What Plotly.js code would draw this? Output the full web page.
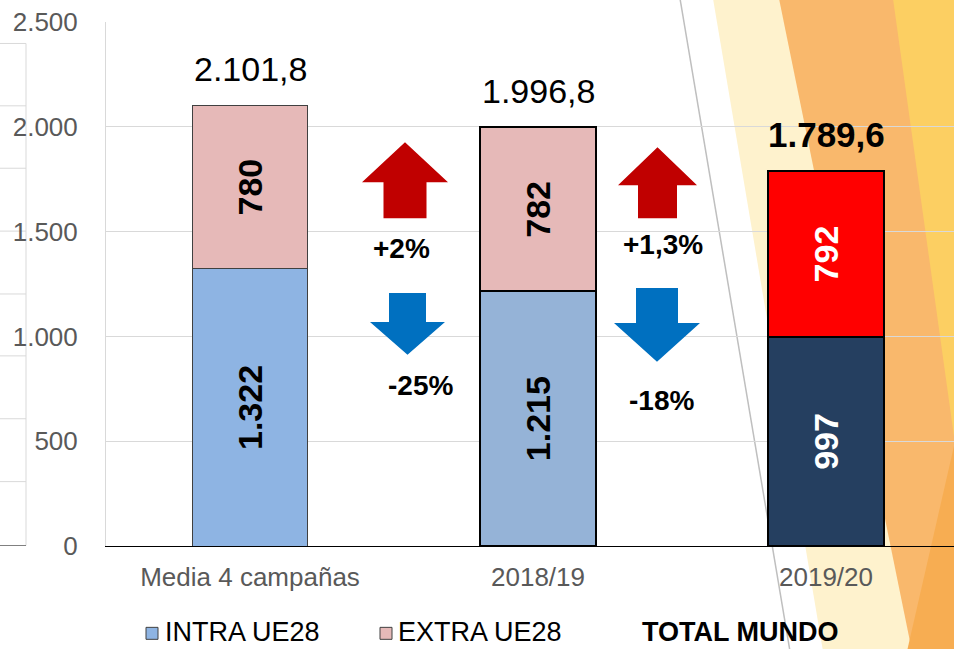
<!DOCTYPE html>
<html>
<head>
<meta charset="utf-8">
<script src="https://cdn.plot.ly/plotly-3.0.1.min.js"></script>
<style>
html,body{margin:0;padding:0;background:#ffffff;}
#chart{width:954px;height:649px;}
</style>
</head>
<body>
<div id="chart"></div>
<script>
// ---------------- data ----------------
const categories = ['Media 4 campañas', '2018/19', '2019/20'];
const intraUE28 = [1322, 1215, 997];
const extraUE28 = [780, 782, 792];
const totalMundo = [2101.8, 1996.8, 1789.6];
const yTickValues = [0, 500, 1000, 1500, 2000, 2500];
const changeUp = ['+2%', '+1,3%'];
const changeDown = ['-25%', '-18%'];
const legendLabels = ['INTRA UE28', 'EXTRA UE28', 'TOTAL MUNDO'];

// ---------------- styles ----------------
const FONT = 'Liberation Sans, Arial, sans-serif';
const intraColors = ['#8EB4E3', '#95B3D7', '#253F60'];
const extraColors = ['#E6B9B8', '#E6B9B8', '#FF0000'];
const lineColors = ['#404040', '#000000', '#000000'];
const lineWidths = [1, 2, 2];
const labelColors = ['#000000', '#000000', '#FFFFFF'];
const totalBold = [false, false, true];

// ---------------- geometry helpers (pixel -> paper) ----------------
const W = 954, H = 649, ML = 106, MR = 0, MT = 21.5, MB = 102.5;
const PW = W - ML - MR, PH = H - MT - MB;
const px = x => (x - ML) / PW;
const py = y => (H - MB - y) / PH;
function poly(pts) {
  return 'M' + pts.map(p => px(p[0]).toFixed(5) + ',' + py(p[1]).toFixed(5)).join(' L') + ' Z';
}
function fmtEs(v, dec) {
  const s = v.toFixed(dec);
  let parts = s.split('.');
  let i = parts[0].replace(/\B(?=(\d{3})+(?!\d))/g, '.');
  return parts[1] ? i + ',' + parts[1] : i;
}

// ---------------- traces ----------------
const commonBar = {
  type: 'bar', x: categories, width: 0.4,
  texttemplate: '%{y:,.0f}', textposition: 'inside', insidetextanchor: 'middle',
  textangle: -90, constraintext: 'none', hoverinfo: 'skip',
  textfont: {family: FONT, size: 34, color: labelColors, weight: 'bold'}
};
const traces = [
  Object.assign({}, commonBar, {
    y: intraUE28, name: legendLabels[0],
    marker: {color: intraColors, line: {color: lineColors, width: lineWidths}}
  }),
  Object.assign({}, commonBar, {
    y: extraUE28, name: legendLabels[1],
    marker: {color: extraColors, line: {color: lineColors, width: lineWidths}}
  })
];

// ---------------- decorative shapes ----------------
const shapes = [];
function addPoly(pts, color) {
  shapes.push({type: 'path', xref: 'paper', yref: 'paper', layer: 'below',
    path: poly(pts), fillcolor: color, line: {width: 0}});
}
// background bands (right side)
addPoly([[713, -2], [960, -2], [960, 652], [823, 652]], '#FEF2CD');
addPoly([[779, -2], [960, -2], [960, 652], [912, 652]], '#F9B86C');
addPoly([[893, -2], [960, -2], [960, 480]], '#FCCF62');
addPoly([[960, 420], [960, 652], [907, 652]], '#F7AD52');
// diagonal thin line
shapes.push({type: 'line', xref: 'paper', yref: 'paper', layer: 'below',
  x0: px(680), y0: py(-2), x1: px(790), y1: py(652), line: {color: '#BFBFBF', width: 1.5}});
// left partial box
[43, 105.5, 168, 231, 294, 356, 419, 482].forEach(yy => {
  shapes.push({type: 'line', xref: 'paper', yref: 'paper', layer: 'below',
    x0: px(0), y0: py(yy), x1: px(26), y1: py(yy), line: {color: '#D9D9D9', width: 1}});
});
shapes.push({type: 'line', xref: 'paper', yref: 'paper', layer: 'below',
  x0: px(26), y0: py(43), x1: px(26), y1: py(546), line: {color: '#D9D9D9', width: 1}});
shapes.push({type: 'line', xref: 'paper', yref: 'paper', layer: 'below',
  x0: px(0), y0: py(546), x1: px(26), y1: py(546), line: {color: '#808080', width: 1}});

// arrows
function addPolyAbove(pts, color) {
  shapes.push({type: 'path', xref: 'paper', yref: 'paper', layer: 'above',
    path: poly(pts), fillcolor: color, line: {width: 0}});
}
function upArrow(cx, tipY, baseY, headHalf, shaftHalf, bottomY, color) {
  addPolyAbove([[cx, tipY], [cx + headHalf, baseY], [cx + shaftHalf, baseY], [cx + shaftHalf, bottomY],
    [cx - shaftHalf, bottomY], [cx - shaftHalf, baseY], [cx - headHalf, baseY]], color);
}
function downArrow(cx, topY, headTopY, headHalf, shaftHalf, tipY, color) {
  addPolyAbove([[cx - shaftHalf, topY], [cx + shaftHalf, topY], [cx + shaftHalf, headTopY], [cx + headHalf, headTopY],
    [cx, tipY], [cx - headHalf, headTopY], [cx - shaftHalf, headTopY]], color);
}
upArrow(405, 142, 182, 43, 21.5, 218, '#C00000');
upArrow(657.5, 147, 185, 39.5, 19.5, 218, '#C00000');
downArrow(407.5, 293, 322, 37.5, 18.5, 355, '#0070C0');
downArrow(657, 288, 323, 43, 21, 362, '#0070C0');

// legend squares
shapes.push({type: 'rect', xref: 'paper', yref: 'paper', x0: px(146), x1: px(158), y0: py(640), y1: py(628),
  fillcolor: intraColors[0], line: {color: '#404040', width: 1}});
shapes.push({type: 'rect', xref: 'paper', yref: 'paper', x0: px(380), x1: px(392), y0: py(640), y1: py(628),
  fillcolor: extraColors[0], line: {color: '#404040', width: 1}});

// ---------------- annotations ----------------
const annotations = [];
categories.forEach((c, i) => {
  annotations.push({x: c, y: totalMundo[i], xref: 'x', yref: 'y', text: fmtEs(totalMundo[i], 1),
    showarrow: false, yanchor: 'bottom', yshift: 15,
    font: {family: FONT, size: totalBold[i] ? 35 : 34, color: '#000000', weight: totalBold[i] ? 'bold' : 'normal'}});
});
const pctPos = [[401, 248], [663, 244]];
const pctPosDown = [[420, 386], [661, 401]];
changeUp.forEach((t, i) => annotations.push({x: px(pctPos[i][0]), y: py(pctPos[i][1]), xref: 'paper', yref: 'paper',
  text: t, showarrow: false, xanchor: 'center', yanchor: 'middle',
  font: {family: FONT, size: 28, color: '#000000', weight: 'bold'}}));
changeDown.forEach((t, i) => annotations.push({x: px(pctPosDown[i][0]), y: py(pctPosDown[i][1]), xref: 'paper', yref: 'paper',
  text: t, showarrow: false, xanchor: 'center', yanchor: 'middle',
  font: {family: FONT, size: 28, color: '#000000', weight: 'bold'}}));
const legX = [163, 396, 640];
legendLabels.forEach((t, i) => annotations.push({x: px(legX[i]), y: py(633), xref: 'paper', yref: 'paper',
  text: t, showarrow: false, xanchor: 'left', yanchor: 'middle',
  font: {family: FONT, size: 27, color: '#000000', weight: i === 2 ? 'bold' : 'normal'}}));

// ---------------- layout ----------------
const layout = {
  width: W, height: H,
  margin: {l: ML, r: MR, t: MT, b: MB, pad: 0},
  paper_bgcolor: '#FFFFFF', plot_bgcolor: 'rgba(0,0,0,0)',
  separators: ',.',
  barmode: 'stack', showlegend: false,
  font: {family: FONT, color: '#595959'},
  xaxis: {range: [-0.5, -0.5 + PW / 288], showline: true, linecolor: '#000000', linewidth: 1,
    showgrid: false, zeroline: false, ticks: '', ticklabelstandoff: 8,
    tickfont: {family: FONT, size: 26, color: '#595959'}, fixedrange: true},
  yaxis: {range: [0, 2500], tickvals: yTickValues, tickformat: ',.0f', showgrid: true,
    gridcolor: '#D9D9D9', gridwidth: 1, showline: true, linecolor: '#D9D9D9', linewidth: 1,
    zeroline: false, ticks: '', ticklabelstandoff: 22,
    tickfont: {family: FONT, size: 26, color: '#595959'}, fixedrange: true},
  shapes: shapes,
  annotations: annotations
};

Plotly.newPlot('chart', traces, layout, {displayModeBar: false, staticPlot: true});
</script>
</body>
</html>
